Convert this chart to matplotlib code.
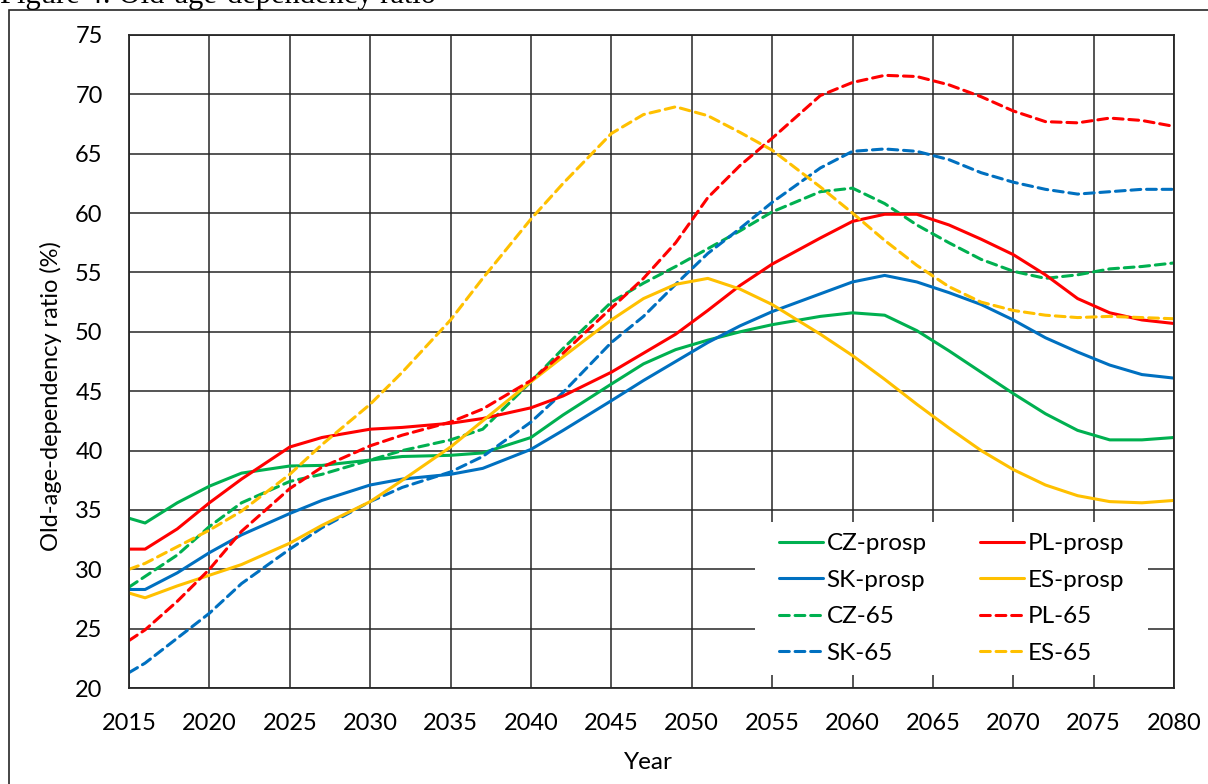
import matplotlib.pyplot as plt
from matplotlib.patches import Rectangle

plt.rcParams['font.family'] = ['Lato', 'DejaVu Sans']

years = [2015, 2016, 2018, 2020, 2022, 2025, 2027, 2030, 2032, 2035, 2037,
         2040, 2042, 2045, 2047, 2049, 2051, 2053, 2055, 2058, 2060, 2062,
         2064, 2066, 2068, 2070, 2072, 2074, 2076, 2078, 2080]

cz_prosp = [34.3, 33.9, 35.6, 37.0, 38.1, 38.7, 38.75, 39.2, 39.5, 39.6, 39.8,
            41.1, 43.0, 45.6, 47.3, 48.5, 49.3, 50.0, 50.6, 51.3, 51.6, 51.4,
            50.1, 48.4, 46.6, 44.8, 43.1, 41.7, 40.9, 40.9, 41.1]
pl_prosp = [31.7, 31.7, 33.4, 35.6, 37.6, 40.3, 41.1, 41.8, 41.95, 42.3, 42.7,
            43.6, 44.6, 46.6, 48.2, 49.8, 51.8, 53.9, 55.7, 57.9, 59.3, 59.9,
            59.9, 59.0, 57.8, 56.5, 54.8, 52.8, 51.6, 51.0, 50.7]
sk_prosp = [28.3, 28.3, 29.7, 31.4, 32.9, 34.7, 35.8, 37.1, 37.6, 38.0, 38.5,
            40.1, 41.7, 44.2, 45.9, 47.5, 49.1, 50.5, 51.7, 53.2, 54.2, 54.75,
            54.2, 53.3, 52.3, 51.0, 49.5, 48.3, 47.2, 46.4, 46.1]
es_prosp = [28.0, 27.6, 28.6, 29.5, 30.4, 32.2, 33.7, 35.7, 37.5, 40.3, 42.5,
            45.8, 47.9, 51.0, 52.8, 54.0, 54.5, 53.6, 52.3, 49.8, 48.0, 46.0,
            43.9, 41.9, 40.0, 38.4, 37.1, 36.2, 35.7, 35.6, 35.8]
cz_65 = [28.5, 29.4, 31.2, 33.6, 35.6, 37.4, 38.0, 39.2, 40.0, 40.9, 41.8,
         45.8, 48.6, 52.5, 54.1, 55.5, 57.0, 58.5, 60.1, 61.8, 62.1, 60.8,
         59.0, 57.5, 56.1, 55.1, 54.5, 54.8, 55.3, 55.5, 55.8]
pl_65 = [24.0, 24.9, 27.3, 30.0, 33.2, 36.8, 38.6, 40.4, 41.3, 42.4, 43.5,
         45.9, 48.2, 52.0, 54.5, 57.5, 61.3, 64.0, 66.3, 69.9, 71.0, 71.6,
         71.5, 70.8, 69.8, 68.6, 67.7, 67.6, 68.0, 67.8, 67.3]
sk_65 = [21.3, 22.1, 24.2, 26.3, 28.8, 31.7, 33.5, 35.7, 36.9, 38.2, 39.5,
         42.4, 44.9, 49.1, 51.3, 54.0, 56.6, 58.7, 60.9, 63.8, 65.2, 65.4,
         65.2, 64.5, 63.4, 62.6, 62.0, 61.6, 61.8, 62.0, 62.0]
es_65 = [30.0, 30.5, 31.9, 33.3, 34.9, 38.0, 40.5, 43.9, 46.6, 51.0, 54.5,
         59.5, 62.5, 66.7, 68.3, 68.95, 68.2, 66.8, 65.3, 62.2, 60.0, 57.7,
         55.6, 53.8, 52.5, 51.8, 51.4, 51.2, 51.3, 51.2, 51.1]

GREEN, RED, BLUE, GOLD = '#00B050', '#FF0000', '#0070C0', '#FFC000'

fig = plt.figure(figsize=(12.08, 7.84), dpi=100)
ax = fig.add_axes([0.1068, 0.1224, 0.8651, 0.833])

solid = dict(lw=2.2, solid_capstyle='round', zorder=4)
dashed = dict(lw=2.2, linestyle=(0, (3.2, 1.9)), dash_capstyle='round', zorder=4)

# column order for the 2-column legend: left column first, then right
ax.plot(years, cz_prosp, color=GREEN, label='CZ-prosp', **solid)
ax.plot(years, sk_prosp, color=BLUE, label='SK-prosp', **solid)
ax.plot(years, cz_65, color=GREEN, label='CZ-65', **dashed)
ax.plot(years, sk_65, color=BLUE, label='SK-65', **dashed)
ax.plot(years, pl_prosp, color=RED, label='PL-prosp', **solid)
ax.plot(years, es_prosp, color=GOLD, label='ES-prosp', **solid)
ax.plot(years, pl_65, color=RED, label='PL-65', **dashed)
ax.plot(years, es_65, color=GOLD, label='ES-65', **dashed)

ax.set_xlim(2015, 2080)
ax.set_ylim(20, 75)
ax.set_xticks(range(2015, 2081, 5))
ax.set_yticks(range(20, 76, 5))
ax.grid(True, color='#262626', lw=1.1)
ax.set_axisbelow(True)
ax.tick_params(length=0, labelsize=17, colors='black')
ax.tick_params(axis='y', pad=19)
ax.tick_params(axis='x', pad=18)
for s in ax.spines.values():
    s.set_color('#262626')
    s.set_linewidth(1.3)
    s.set_zorder(5)

ax.set_xlabel('Year', fontsize=17.5)
ax.set_ylabel('Old-age-dependency ratio (%)', fontsize=17)
ax.xaxis.set_label_coords(0.497, -0.098)
ax.yaxis.set_label_coords(-0.064, 0.447)

# white panel behind the legend, hiding the grid there
ax.add_patch(Rectangle((0.599, 0.02), 0.376, 0.234, transform=ax.transAxes,
                       facecolor='white', edgecolor='none', zorder=3))
ax.legend(ncol=2, loc='center', bbox_to_anchor=(0.787, 0.137),
          fontsize=17.5, frameon=False, handlelength=1.8, handletextpad=0.15,
          columnspacing=2.2, labelspacing=0.64)

# outer chart border, running off the right and bottom edges
fig.patches.append(Rectangle((9 / 1208, -0.02), 1.05, 1 - 10 / 784 + 0.02,
                             transform=fig.transFigure, fill=False,
                             edgecolor='#262626', lw=1.2))

fig.text(0.0, 1 - 3 / 784, 'Figure 4: Old-age-dependency ratio',
         family='Liberation Serif', fontsize=22, va='baseline', ha='left')

fig.savefig('out.png', dpi=100)
